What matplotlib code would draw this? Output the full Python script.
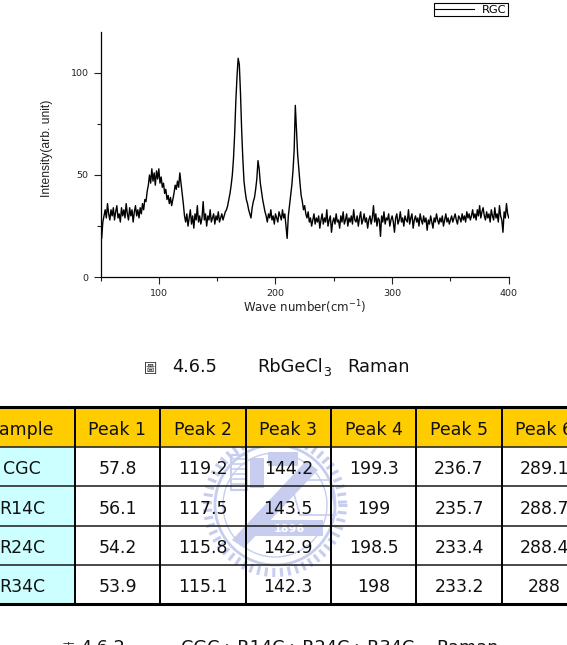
import matplotlib
matplotlib.use("Agg")
import matplotlib.pyplot as plt
from matplotlib.patches import Rectangle, Circle, Polygon
from matplotlib.ticker import FixedLocator, MultipleLocator
import numpy as np

# ---------------- data ----------------
wavenumber = list(range(50, 401))  # cm^-1, 1 cm^-1 steps
intensity = [
    22, 19, 27, 30, 33, 29, 36, 31, 28, 33,
    30, 34, 28, 32, 35, 29, 31, 27, 34, 30,
    33, 29, 36, 31, 28, 34, 30, 33, 27, 32,
    35, 30, 33, 29, 34, 31, 36, 33, 38, 37,
    42, 45, 50, 46, 53, 47, 51, 45, 52, 48,
    53, 46, 49, 44, 46, 41, 43, 38, 40, 36,
    39, 35, 38, 41, 45, 43, 47, 44, 51, 46,
    41, 36, 30, 27, 31, 25, 29, 33, 26, 30,
    24, 31, 28, 35, 27, 30, 26, 29, 37, 28,
    31, 25, 30, 28, 33, 27, 29, 31, 26, 30,
    28, 32, 27, 29, 31, 28, 30, 32, 33, 35,
    38, 41, 45, 50, 58, 70, 86, 98, 107, 104,
    90, 72, 58, 47, 42, 38, 36, 33, 31, 29,
    34, 37, 39, 43, 48, 57, 53, 46, 42, 38,
    35, 32, 30, 27, 31, 29, 33, 28, 30, 26,
    31, 29, 27, 32, 30, 28, 33, 29, 31, 25,
    19, 30, 35, 40, 45, 52, 62, 84, 72, 60,
    53, 46, 40, 37, 33, 35, 31, 29, 32, 27,
    29, 25, 28, 31, 26, 29, 27, 30, 24, 28,
    31, 26, 29, 27, 33, 25, 28, 30, 22, 27,
    29, 26, 31, 27, 28, 24, 30, 27, 32, 26,
    28, 31, 25, 29, 27, 30, 26, 33, 28, 27,
    30, 25, 29, 32, 26, 28, 31, 27, 29, 24,
    28, 30, 26, 29, 35, 27, 31, 25, 29, 28,
    20, 30, 27, 32, 26, 29, 28, 31, 25, 28,
    30, 27, 22, 29, 31, 26, 28, 32, 27, 29,
    25, 30, 28, 27, 33, 26, 29, 31, 24, 28,
    30, 27, 29, 25, 31, 28, 26, 30, 27, 29,
    23, 28, 26, 30, 27, 24, 29, 27, 31, 28,
    26, 29, 27, 30, 25, 28, 31, 27, 29, 26,
    28, 30, 27, 29, 31, 28, 26, 30, 29, 27,
    31, 28, 30, 27, 32, 29, 31, 28, 30, 33,
    29, 31, 28, 33, 30, 35, 29, 32, 34, 30,
    28, 32, 29, 31, 27, 33, 30, 28, 34, 29,
    31, 27, 35, 30, 28, 22, 32, 29, 36, 31,
    29,
]
series_label = "RGC"
x_label = "Wave number(cm$^{-1}$)"
y_label = "Intensity(arb. unit)"
x_major_ticks = [100, 200, 300, 400]
y_major_ticks = [0, 50, 100]

table_header = ["Sample", "Peak 1", "Peak 2", "Peak 3", "Peak 4", "Peak 5", "Peak 6"]
samples = ["CGC", "R14C", "R24C", "R34C"]
peak1 = [57.8, 56.1, 54.2, 53.9]
peak2 = [119.2, 117.5, 115.8, 115.1]
peak3 = [144.2, 143.5, 142.9, 142.3]
peak4 = [199.3, 199, 198.5, 198]
peak5 = [236.7, 235.7, 233.4, 233.2]
peak6 = [289.1, 288.7, 288.4, 288]

fig_caption = ["圖", "4.6.5", "RbGeCl", "3", "Raman"]
table_caption = ["表", "4.6.2", "CGC、R14C、R24C、R34C", "Raman"]

# ---------------- figure ----------------
W, H = 567, 645
fig = plt.figure(figsize=(W / 100, H / 100), dpi=100)
fig.patch.set_facecolor("white")


def fx(px):
    return px / W


def fy(py):
    return 1 - py / H


# ---- spectrum axes ----
ax_l, ax_r, ax_t, ax_b = 100.5, 508.8, 31.7, 277.3
ax = fig.add_axes([fx(ax_l), fy(ax_b), (ax_r - ax_l) / W, (ax_b - ax_t) / H])
ax.plot(wavenumber, intensity, color="black", lw=1.0, label=series_label)
ax.set_xlim(50, 400)
ax.set_ylim(0, 120)
for s in ["top", "right"]:
    ax.spines[s].set_visible(False)
for s in ["left", "bottom"]:
    ax.spines[s].set_linewidth(0.9)
ax.xaxis.set_major_locator(FixedLocator(x_major_ticks))
ax.xaxis.set_minor_locator(MultipleLocator(50))
ax.yaxis.set_major_locator(FixedLocator(y_major_ticks))
ax.yaxis.set_minor_locator(MultipleLocator(25))
ax.tick_params(which="major", direction="out", length=5, width=0.8,
               labelsize=6.8, pad=3.5, colors="#222222")
ax.tick_params(which="minor", direction="out", length=3, width=0.8, colors="#222222")
for lab in ax.get_xticklabels() + ax.get_yticklabels():
    lab.set_family("DejaVu Sans")

ax.set_xlabel(x_label, fontsize=8.5, family="DejaVu Sans", color="#222222")
ax.xaxis.set_label_coords(0.5, -0.085)
ax.set_ylabel(y_label, fontsize=8.7, family="Liberation Sans", color="#222222")
ax.yaxis.set_label_coords(-0.116, 0.525)

leg = ax.legend(loc="upper right", bbox_to_anchor=(fx(507.5), fy(3.3)),
                bbox_transform=fig.transFigure, frameon=True, fancybox=False,
                edgecolor="black", framealpha=1,
                handlelength=3.4, handletextpad=0.7, borderpad=0.12,
                borderaxespad=0, prop={"family": "DejaVu Sans", "size": 8.2})
leg.get_frame().set_linewidth(0.8)
for line in leg.get_lines():
    line.set_linewidth(0.8)

# ---- figure caption ----
cap_base = 372.5
cap_fs = 12.8
fig.text(fx(144), fy(cap_base), fig_caption[0], fontsize=9.5,
         family=["Noto Sans CJK TC", "DejaVu Sans"], color="#333333", va="baseline")
fig.text(fx(172.5), fy(cap_base), fig_caption[1], fontsize=cap_fs,
         family="DejaVu Sans", va="baseline", color="#111111")
fig.text(fx(257), fy(cap_base), fig_caption[2], fontsize=cap_fs,
         family="DejaVu Sans", va="baseline", color="#111111")
fig.text(fx(323.5), fy(cap_base + 4), fig_caption[3], fontsize=9,
         family="DejaVu Sans", va="baseline", color="#111111")
fig.text(fx(347), fy(cap_base), fig_caption[4], fontsize=cap_fs,
         family="DejaVu Sans", va="baseline", color="#111111")

# ---- table (drawn in pixel coordinates) ----
tab = fig.add_axes([0, 0, 1, 1])
tab.set_xlim(0, W)
tab.set_ylim(H, 0)
tab.axis("off")

col_edges = [-31, 74.7, 160.3, 245.7, 330.9, 416.3, 501.7, 587.0]
row_edges = [407.3, 446.7, 486.0, 525.5, 565.0, 604.0]
gold = "#FFCC00"
cyan = "#CCFFFF"

columns = [samples, peak1, peak2, peak3, peak4, peak5, peak6]
n_rows = len(samples)

# body fills
for r in range(n_rows):
    y0, y1 = row_edges[r + 1], row_edges[r + 2]
    for c in range(len(columns)):
        x0, x1 = col_edges[c], col_edges[c + 1]
        tab.add_patch(Rectangle((x0, y0), x1 - x0, y1 - y0,
                                facecolor=cyan if c == 0 else "white",
                                edgecolor="none", zorder=1))

# watermark (light blue seal)
wm = "#c6cdee"
cx, cy = 275, 505
for ang in np.arange(0, 360, 6.5):
    a = np.deg2rad(ang)
    tab.plot([cx + 63 * np.cos(a), cx + 72 * np.cos(a)],
             [cy + 63 * np.sin(a), cy + 72 * np.sin(a)],
             color=wm, lw=2.2, solid_capstyle="butt", zorder=2)
tab.add_patch(Circle((cx, cy), 60, facecolor="none", edgecolor=wm, lw=2.0, zorder=2))
tab.add_patch(Circle((cx, cy), 52, facecolor="none", edgecolor=wm, lw=1.0, zorder=2))
tab.add_patch(Polygon([(232, 540), (244, 548), (318, 470), (306, 461)],
                      closed=True, facecolor=wm, edgecolor="none", zorder=2))
tab.add_patch(Rectangle((231, 455), 16, 35, facecolor="none", edgecolor=wm, lw=1.5, zorder=2))
for yy in range(459, 489, 5):
    tab.plot([233, 245], [yy, yy], color=wm, lw=1.2, zorder=2)
tab.add_patch(Rectangle((250, 458), 14, 30, facecolor=wm, edgecolor="none", zorder=2))
tab.add_patch(Rectangle((268, 452), 30, 14, facecolor=wm, edgecolor="none", zorder=2))
tab.add_patch(Rectangle((255, 520), 68, 16, facecolor=wm, edgecolor="none", zorder=2))
tab.text(289, 528.5, "1896", ha="center", va="center", fontsize=8,
         color="white", family="DejaVu Sans", fontweight="bold", zorder=2.5)
tab.add_patch(Polygon([(290, 480), (330, 480), (336, 515), (300, 515)],
                      closed=True, facecolor="none", edgecolor=wm, lw=1.2, zorder=2))

# header fill
tab.add_patch(Rectangle((col_edges[0], row_edges[0]), col_edges[-1] - col_edges[0],
                        row_edges[1] - row_edges[0], facecolor=gold,
                        edgecolor="none", zorder=3))

# grid lines
for i, yy in enumerate(row_edges):
    if i in (0, len(row_edges) - 1):
        tab.plot([col_edges[0], col_edges[-1]], [yy, yy], color="black", lw=2.2, zorder=4)
    else:
        tab.plot([col_edges[0], col_edges[-1]], [yy, yy], color="#2a2a2a", lw=1.2, zorder=4)
for xx in col_edges[1:-1]:
    tab.plot([xx, xx], [row_edges[0], row_edges[-1]], color="black", lw=1.4, zorder=4)

cell_fs = 12.5
txt_col = "#111111"


def fmt(v):
    return v if isinstance(v, str) else f"{v:g}"


for c, name in enumerate(table_header):
    xc = (col_edges[c] + col_edges[c + 1]) / 2
    yb = (row_edges[0] + row_edges[1]) / 2 + 8
    tab.text(xc, yb, name, ha="center", va="baseline", fontsize=cell_fs,
             family="DejaVu Sans", color=txt_col, zorder=5)
for r in range(n_rows):
    yb = (row_edges[r + 1] + row_edges[r + 2]) / 2 + 8
    for c, col in enumerate(columns):
        xc = (col_edges[c] + col_edges[c + 1]) / 2
        tab.text(xc, yb, fmt(col[r]), ha="center", va="baseline", fontsize=cell_fs,
                 family="DejaVu Sans", color=txt_col, zorder=5)

# ---- table caption (cut off by the page bottom) ----
tcap_base = 653
tab.text(61, tcap_base, table_caption[0], fontsize=9.5,
         family=["Noto Sans CJK TC", "DejaVu Sans"], color="#333333", va="baseline")
tab.text(80, tcap_base, table_caption[1], fontsize=cap_fs, family="DejaVu Sans",
         va="baseline", color="#111111")
tab.text(181, tcap_base, table_caption[2], fontsize=cap_fs,
         family=["DejaVu Sans", "Noto Sans CJK TC"], va="baseline", color="#111111")
tab.text(436, tcap_base, table_caption[3], fontsize=cap_fs, family="DejaVu Sans",
         va="baseline", color="#111111")

fig.savefig("out.png", dpi=100)
